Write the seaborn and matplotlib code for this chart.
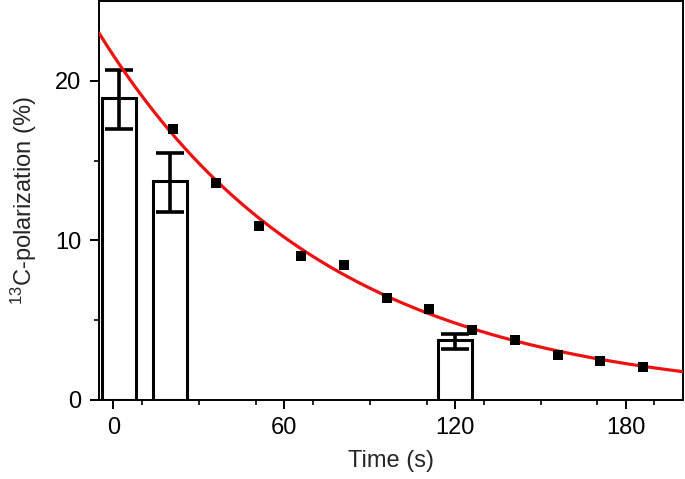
import numpy as np
import pandas as pd
import matplotlib
matplotlib.use("Agg")
import matplotlib.pyplot as plt
import seaborn as sns

# ---- data ----
bar_time = [2, 20, 120]
bar_pol = [18.9, 13.7, 3.75]
bar_err_low = [1.9, 1.9, 0.55]
bar_err_high = [1.8, 1.8, 0.4]

pt_time = [21, 36, 51, 66, 81, 96, 111, 126, 141, 156, 171, 186]
pt_pol = [16.96, 13.58, 10.88, 9.0, 8.44, 6.42, 5.67, 4.38, 3.75, 2.81, 2.46, 2.08]

# mono-exponential fit shown as the red curve
fit_amp = 21.6
fit_T1 = 80.0

x_ticks = [0, 60, 120, 180]
y_ticks = [0, 10, 20]

sns.set_theme(style="ticks")
plt.rcParams["font.family"] = ["Liberation Sans", "DejaVu Sans"]
plt.rcParams["mathtext.fontset"] = "custom"
plt.rcParams["mathtext.rm"] = "Liberation Sans"
plt.rcParams["mathtext.it"] = "Liberation Sans:italic"
plt.rcParams["mathtext.bf"] = "Liberation Sans:bold"

fig = plt.figure(figsize=(6.85, 4.79), dpi=100)
ax = fig.add_axes([0.1445, 0.165, 0.8525, 0.833])

# bars
ax.bar(bar_time, bar_pol, width=12, color="white", edgecolor="black",
       linewidth=2.2, zorder=2)
ax.errorbar(bar_time, bar_pol, yerr=[bar_err_low, bar_err_high], fmt="none",
            ecolor="black", elinewidth=2.6, capsize=10, capthick=2.6, zorder=3)

# fit curve
t_fit = np.linspace(-5, 200, 300)
fit_df = pd.DataFrame({"t": t_fit, "p": fit_amp * np.exp(-t_fit / fit_T1)})
sns.lineplot(data=fit_df, x="t", y="p", color="#ee1111", linewidth=2.3,
             ax=ax, zorder=4)

# data points
pts = pd.DataFrame({"t": pt_time, "p": pt_pol})
sns.scatterplot(data=pts, x="t", y="p", marker="s", s=45, color="black",
                edgecolor="black", linewidth=0, ax=ax, zorder=5)

ax.set_xlim(-5, 200)
ax.set_ylim(0, 25)
ax.set_xticks(x_ticks)
ax.set_yticks(y_ticks)
ax.set_xticks(np.arange(10, 200, 20), minor=True)
ax.set_yticks([5, 15], minor=True)

for side in ["left", "right", "top", "bottom"]:
    ax.spines[side].set_visible(True)
    ax.spines[side].set_linewidth(1.4)
    ax.spines[side].set_color("black")

ax.tick_params(axis="both", which="major", direction="out", length=6.5,
               width=1.4, labelsize=17, colors="black")
ax.tick_params(axis="y", which="major", pad=6)
ax.tick_params(axis="x", which="major", pad=6)
ax.tick_params(axis="both", which="minor", direction="out", length=3.5,
               width=1.4)

ax.set_xlabel("Time (s)", fontsize=17, labelpad=8)
ax.set_ylabel(r"$^{13}$C-polarization (%)", fontsize=17, labelpad=12)

fig.savefig("out.png", dpi=100)
